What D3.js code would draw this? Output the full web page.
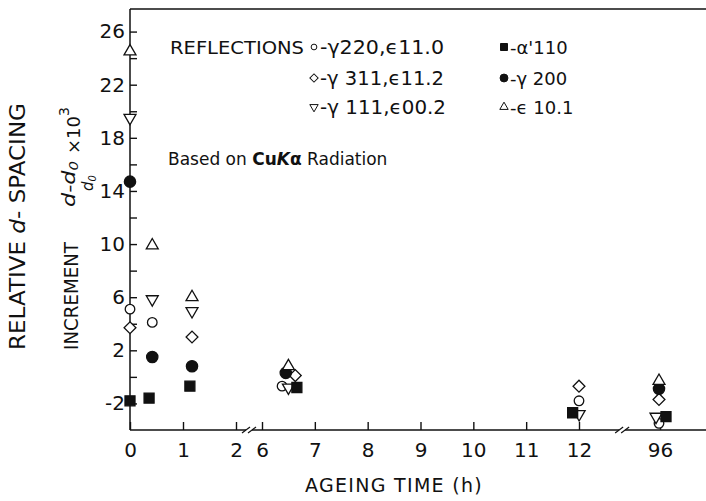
<!DOCTYPE html>
<html>
<head>
<meta charset="utf-8">
<script src="https://cdn.jsdelivr.net/npm/d3@7/dist/d3.min.js"></script>
<style>
  body { margin: 0; background: #fff; }
  svg { display: block; font-family: "DejaVu Sans", sans-serif; fill: #111; }
</style>
</head>
<body>
<script>
// ageing time ticks (h) and the broken-axis gaps
var hourTicks = [0, 1, 2, 6, 7, 8, 9, 10, 11, 12, 96];
var hourBreaks = [4, 70];
var incTicks = [-2, 0, 2, 4, 6, 8, 10, 12, 14, 16, 18, 20, 22, 24, 26];
var incLabels = [-2, 2, 6, 10, 14, 18, 22, 26];

// [hours, (d-d0)/d0 x 10^3]
var gamma220 = [[0, 5.1], [0.42, 4.1], [6.38, -0.7], [12, -1.8], [95.9, -3.5]];
var gamma311 = [[0, 3.7], [1.17, 3.0], [6.63, 0.1], [12, -0.7], [95.9, -1.7]];
var gamma111 = [[0, 19.5], [0.42, 5.85], [1.17, 4.95], [6.5, -0.8], [12.15, -2.8], [95.6, -3.0]];
var alpha110 = [[0, -1.8], [0.36, -1.6], [1.13, -0.7], [6.66, -0.8], [11.88, -2.7], [96.6, -3.0]];
var gamma200 = [[0, 14.7], [0.42, 1.5], [1.17, 0.8], [6.45, 0.3], [95.9, -0.9]];
var eps101 = [[0, 24.5], [0.42, 9.9], [1.17, 6.0], [6.5, 0.8], [95.9, -0.3]];

var series = [
  {data: gamma220, shape: "circle", filled: false, label: "-γ220,ϵ11.0", len: 124},
  {data: gamma311, shape: "diamond", filled: false, label: "-γ 311,ϵ11.2", len: 124},
  {data: gamma111, shape: "down", filled: false, label: "-γ 111,ϵ00.2", len: 126},
  {data: alpha110, shape: "square", filled: true, label: "-α'110"},
  {data: gamma200, shape: "dot", filled: true, label: "-γ 200"},
  {data: eps101, shape: "up", filled: false, label: "-ϵ 10.1"}
];

var width = 706, height = 501;

var svg = d3.select("body").append("svg")
    .attr("width", width)
    .attr("height", height);

var x = d3.scaleLinear()
    .domain([0, 2, 6, 12, 94, 98])
    .range([130, 236, 262, 579, 640, 680]);

var y = d3.scaleLinear()
    .domain([-4, 27.7])
    .range([430, 9]);

function markPath(shape, k) {
  k = k || 1;
  if (shape == "circle") return d3.symbol(d3.symbolCircle, 72 * k * k)();
  if (shape == "dot") return d3.symbol(d3.symbolCircle, 100 * k * k)();
  if (shape == "square") return d3.symbol(d3.symbolSquare, 100 * k * k)();
  if (shape == "diamond") return d3.symbol(d3.symbolSquare, 70 * k * k)();
  return d3.symbol(d3.symbolTriangle, 62 * k * k)();
}
function markRot(shape) {
  if (shape == "diamond") return " rotate(45)";
  if (shape == "down") return " rotate(180)";
  return "";
}

// frame
var line = "#111";
svg.append("line")
    .attr("x1", x(0)).attr("x2", width)
    .attr("y1", y(27.7)).attr("y2", y(27.7))
    .attr("stroke", line).attr("stroke-width", 1.4);
svg.append("line")
    .attr("x1", x(0)).attr("x2", x(0))
    .attr("y1", y(27.7)).attr("y2", y(-4))
    .attr("stroke", line).attr("stroke-width", 1.5);

// bottom axis line, split at the breaks
var segs = [[x(0), x(hourBreaks[0]) - 3], [x(hourBreaks[0]) + 3, x(hourBreaks[1]) - 3], [x(hourBreaks[1]) + 3, width]];
svg.selectAll(".seg").data(segs).enter().append("line")
    .attr("x1", function(d) { return d[0]; })
    .attr("x2", function(d) { return d[1]; })
    .attr("y1", y(-4)).attr("y2", y(-4))
    .attr("stroke", line).attr("stroke-width", 1.5);
hourBreaks.forEach(function(h) {
  [-3, 3].forEach(function(o) {
    svg.append("line")
        .attr("x1", x(h) + o - 4).attr("x2", x(h) + o + 4)
        .attr("y1", y(-4) + 3).attr("y2", y(-4) - 3)
        .attr("stroke", line).attr("stroke-width", 1.2);
  });
});

var xAxis = svg.append("g")
    .attr("transform", "translate(0," + y(-4) + ")")
    .call(d3.axisBottom(x).tickValues(hourTicks).tickSize(-8).tickPadding(13)
      .tickFormat(function(d) { return String(d); }));
xAxis.select(".domain").remove();
xAxis.selectAll("line").attr("stroke", line).attr("stroke-width", 1.4);
xAxis.selectAll("text").attr("font-size", 20).attr("font-family", "DejaVu Sans").attr("fill", "#111");

var yAxis = svg.append("g")
    .attr("transform", "translate(" + x(0) + ",0)")
    .call(d3.axisLeft(y).tickValues(incTicks).tickSize(-7).tickPadding(5)
      .tickFormat(function(d) { return incLabels.indexOf(d) >= 0 ? String(d) : ""; }));
yAxis.select(".domain").remove();
yAxis.selectAll("line").attr("stroke", line).attr("stroke-width", 1.4);
yAxis.selectAll("text").attr("font-size", 20).attr("font-family", "DejaVu Sans").attr("fill", "#111");

// points
series.forEach(function(s) {
  svg.append("g").selectAll("path")
      .data(s.data)
    .enter().append("path")
      .attr("transform", function(d) { return "translate(" + x(d[0]) + "," + y(d[1]) + ")" + markRot(s.shape); })
      .attr("d", markPath(s.shape))
      .attr("fill", s.filled ? "#111" : "#fff")
      .attr("stroke", "#111")
      .attr("stroke-width", 1.3);
});

// legend
svg.append("text").attr("x", 170).attr("y", 54)
    .attr("font-size", 18).attr("textLength", 134).attr("lengthAdjust", "spacingAndGlyphs")
    .text("REFLECTIONS");
var legendPos = [[314, 47], [314, 78], [314, 107], [504, 47], [504, 78], [504, 107]];
series.forEach(function(s, i) {
  var p = legendPos[i];
  svg.append("path")
      .attr("transform", "translate(" + p[0] + "," + p[1] + ")" + markRot(s.shape))
      .attr("d", markPath(s.shape, s.shape == "circle" ? 0.6 : 0.7))
      .attr("fill", s.filled ? "#111" : "#fff")
      .attr("stroke", "#111").attr("stroke-width", 1);
  var t = svg.append("text").attr("x", p[0] + 6).attr("y", p[1] + 7)
      .attr("font-size", s.len ? 19 : 18)
      .text(s.label);
  if (s.len) t.attr("textLength", s.len).attr("lengthAdjust", "spacingAndGlyphs");
});

var based = svg.append("text").attr("x", 168).attr("y", 165).attr("font-size", 17);
based.append("tspan").text("Based on ");
based.append("tspan").attr("font-weight", "bold").text("Cu");
based.append("tspan").attr("font-weight", "bold").attr("font-style", "italic").text("K");
based.append("tspan").attr("font-weight", "bold").text("α");
based.append("tspan").text(" Radiation");

// axis titles
svg.append("text")
    .attr("x", 394).attr("y", 492)
    .attr("text-anchor", "middle")
    .attr("font-size", 19).attr("letter-spacing", 1.3)
    .text("AGEING TIME (h)");

var t1 = svg.append("text")
    .attr("transform", "translate(25,350) rotate(-90)")
    .attr("font-size", 21).attr("textLength", 247).attr("lengthAdjust", "spacingAndGlyphs");
t1.append("tspan").text("RELATIVE ");
t1.append("tspan").attr("font-style", "italic").text("d");
t1.append("tspan").text("- SPACING");

svg.append("text")
    .attr("transform", "translate(78,350) rotate(-90)")
    .attr("font-size", 19).attr("textLength", 108).attr("lengthAdjust", "spacingAndGlyphs")
    .text("INCREMENT");

// (d - d0) / d0 x 10^3
var num = svg.append("text")
    .attr("transform", "translate(75,207) rotate(-90)")
    .attr("font-size", 18).attr("font-style", "italic")
    .attr("textLength", 46).attr("lengthAdjust", "spacingAndGlyphs");
num.append("tspan").text("d-d");
num.append("tspan").attr("font-size", 12).attr("dy", 3).text("0");

var den = svg.append("text")
    .attr("transform", "translate(93,183) rotate(-90)")
    .attr("text-anchor", "middle")
    .attr("font-size", 15).attr("font-style", "italic");
den.append("tspan").text("d");
den.append("tspan").attr("font-size", 10).attr("dy", 3).text("0");

var pow = svg.append("text")
    .attr("transform", "translate(80,154) rotate(-90)")
    .attr("font-size", 18);
pow.append("tspan").text("×10");
pow.append("tspan").attr("font-size", 14).attr("dy", -11).text("3");
</script>
</body>
</html>
